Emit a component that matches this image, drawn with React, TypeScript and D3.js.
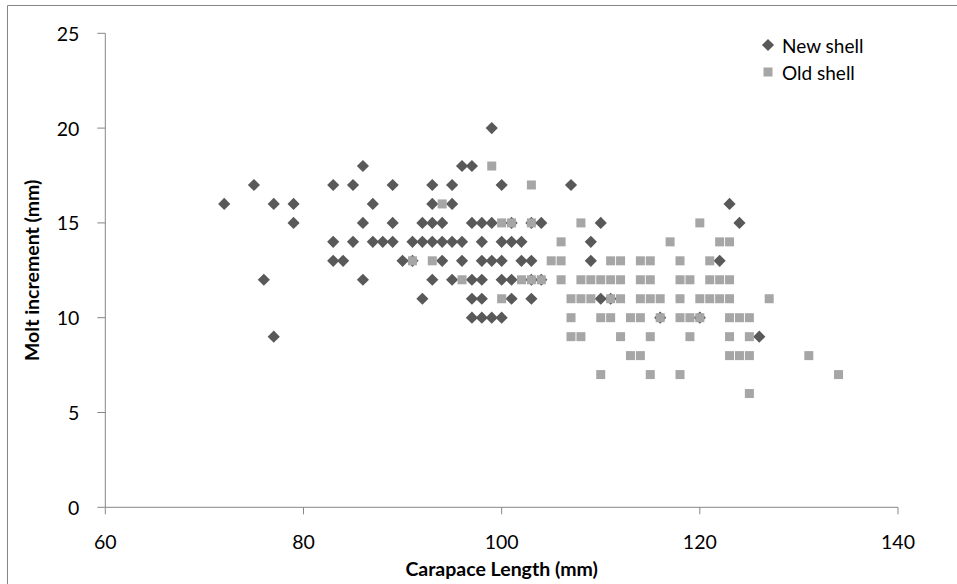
import React from "react";
import * as d3 from "d3";

// New shell: [carapace length, molt increment]
const newShell: [number, number][] = [
  [72, 16], [75, 17], [76, 12], [77, 16], [77, 9], [79, 16], [79, 15],
  [83, 17], [83, 14], [83, 13], [84, 13], [99, 20],
  [86, 18], [96, 18], [97, 18],
  [85, 17], [89, 17], [93, 17], [95, 17], [100, 17], [107, 17],
  [87, 16], [93, 16], [95, 16], [123, 16],
  [86, 15], [89, 15], [92, 15], [93, 15], [94, 15], [97, 15], [98, 15], [99, 15], [101, 15], [103, 15], [104, 15], [110, 15], [124, 15],
  [85, 14], [87, 14], [88, 14], [89, 14], [91, 14], [92, 14], [93, 14], [94, 14], [95, 14], [96, 14], [98, 14], [100, 14], [101, 14], [102, 14], [109, 14],
  [90, 13], [91, 13], [94, 13], [96, 13], [98, 13], [99, 13], [100, 13], [102, 13], [103, 13], [109, 13], [122, 13],
  [86, 12], [93, 12], [95, 12], [97, 12], [98, 12], [100, 12], [101, 12], [103, 12], [104, 12],
  [92, 11], [97, 11], [98, 11], [101, 11], [103, 11], [110, 11], [111, 11],
  [97, 10], [98, 10], [99, 10], [100, 10], [116, 10], [120, 10],
  [126, 9],
];

// Old shell: [carapace length, molt increment]
const oldShell: [number, number][] = [
  [99, 18], [103, 17], [94, 16],
  [100, 15], [101, 15], [103, 15], [108, 15], [120, 15],
  [106, 14], [117, 14], [122, 14], [123, 14],
  [91, 13], [93, 13], [105, 13], [106, 13], [111, 13], [112, 13], [114, 13], [115, 13], [118, 13], [121, 13],
  [96, 12], [102, 12], [103, 12], [104, 12], [106, 12], [108, 12], [109, 12], [110, 12], [111, 12], [112, 12], [114, 12], [115, 12], [118, 12], [119, 12], [121, 12], [122, 12], [123, 12],
  [100, 11], [107, 11], [108, 11], [109, 11], [111, 11], [112, 11], [114, 11], [115, 11], [116, 11], [118, 11], [120, 11], [121, 11], [122, 11], [123, 11], [127, 11],
  [107, 10], [110, 10], [111, 10], [113, 10], [114, 10], [116, 10], [118, 10], [119, 10], [120, 10], [123, 10], [124, 10], [125, 10],
  [107, 9], [108, 9], [112, 9], [115, 9], [119, 9], [123, 9], [125, 9],
  [113, 8], [114, 8], [123, 8], [124, 8], [125, 8], [131, 8],
  [110, 7], [115, 7], [118, 7], [134, 7],
  [125, 6],
];

const xTicks = [60, 80, 100, 120, 140];
const yTicks = [0, 5, 10, 15, 20, 25];
const seriesNames = ["New shell", "Old shell"];
const xTitle = "Carapace Length (mm)";
const yTitle = "Molt increment (mm)";

const W = 957;
const H = 584;
const FONT = "Lato, 'Open Sans', sans-serif";
const NEW_COLOR = "#595959";
const OLD_COLOR = "#a6a6a6";
const AXIS_COLOR = "#868686";

export default function App() {
  const x = d3.scaleLinear().domain([60, 140]).range([105.3, 898]);
  const y = d3.scaleLinear().domain([0, 25]).range([507.3, 33.3]);
  const diamond = d3.symbol().type(d3.symbolSquare).size(74)();
  const sq = 9;

  return (
    <svg
      width={W}
      height={H}
      style={{ position: "absolute", left: 0, top: 0, background: "#fff" }}
    >
      <line x1={7.5} y1={5.5} x2={W} y2={5.5} stroke={AXIS_COLOR} strokeWidth={1} />
      <line x1={7.5} y1={5.5} x2={7.5} y2={H} stroke={AXIS_COLOR} strokeWidth={1} />

      {/* axes */}
      <line x1={x(60)} y1={y(25)} x2={x(60)} y2={y(0)} stroke={AXIS_COLOR} />
      <line x1={x(60)} y1={y(0)} x2={x(140)} y2={y(0)} stroke={AXIS_COLOR} />
      {yTicks.map((t) => (
        <g key={"y" + t}>
          <line x1={x(60) - 8} x2={x(60)} y1={y(t)} y2={y(t)} stroke={AXIS_COLOR} />
          <text
            x={x(60) - 26}
            y={y(t)}
            textAnchor="end"
            dominantBaseline="central"
            fontFamily={FONT}
            fontSize={19.5}
            fill="#000"
          >
            {t}
          </text>
        </g>
      ))}
      {xTicks.map((t) => (
        <g key={"x" + t}>
          <line x1={x(t)} x2={x(t)} y1={y(0)} y2={y(0) + 7} stroke={AXIS_COLOR} />
          <text
            x={x(t)}
            y={y(0) + 34}
            textAnchor="middle"
            dominantBaseline="central"
            fontFamily={FONT}
            fontSize={19.5}
            fill="#000"
          >
            {t}
          </text>
        </g>
      ))}
      <text
        x={(x(60) + x(140)) / 2}
        y={568}
        textAnchor="middle"
        dominantBaseline="central"
        fontFamily={FONT}
        fontWeight="bold"
        fontSize={19.5}
      >
        {xTitle}
      </text>
      <text
        transform={`translate(31,${(y(0) + y(25)) / 2}) rotate(-90)`}
        textAnchor="middle"
        dominantBaseline="central"
        fontFamily={FONT}
        fontWeight="bold"
        fontSize={19.5}
      >
        {yTitle}
      </text>

      {/* series */}
      {newShell.map(([cx, cy], i) => (
        <path
          key={"n" + i}
          d={diamond}
          transform={`translate(${x(cx)},${y(cy)}) rotate(45)`}
          fill={NEW_COLOR}
        />
      ))}
      {oldShell.map(([cx, cy], i) => (
        <rect
          key={"o" + i}
          x={x(cx) - sq / 2}
          y={y(cy) - sq / 2}
          width={sq}
          height={sq}
          fill={OLD_COLOR}
        />
      ))}

      {/* legend */}
      <path d={diamond} transform="translate(768,45) rotate(45)" fill={NEW_COLOR} />
      <text x={782} y={45} dominantBaseline="central" fontFamily={FONT} fontSize={19}>
        {seriesNames[0]}
      </text>
      <rect x={768 - sq / 2} y={72 - sq / 2} width={sq} height={sq} fill={OLD_COLOR} />
      <text x={782} y={72} dominantBaseline="central" fontFamily={FONT} fontSize={19}>
        {seriesNames[1]}
      </text>
    </svg>
  );
}
